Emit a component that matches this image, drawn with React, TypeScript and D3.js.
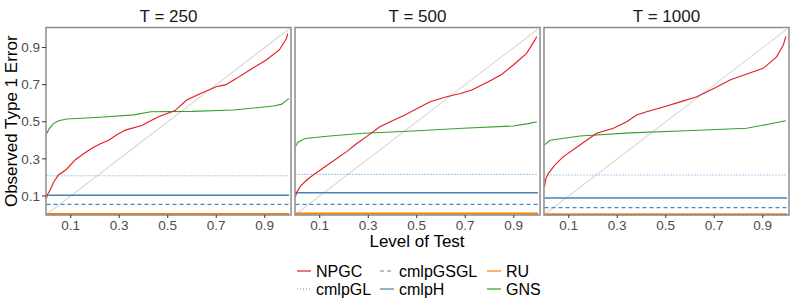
import React from "react";
import * as d3 from "d3";

// panels
const panelTitles = ["T = 250", "T = 500", "T = 1000"];

// NPGC (red) curves
const npgcLevels = [
  [0, 0.005, 0.014, 0.03, 0.049, 0.083, 0.118, 0.15, 0.187, 0.22, 0.256, 0.29, 0.325, 0.393, 0.43, 0.462, 0.53, 0.578, 0.64, 0.70, 0.74, 0.784, 0.838, 0.906, 0.96, 0.99, 0.995],
  [0, 0.005, 0.019, 0.046, 0.073, 0.142, 0.211, 0.25, 0.293, 0.348, 0.4, 0.451, 0.555, 0.623, 0.68, 0.727, 0.795, 0.85, 0.898, 0.953, 0.987, 0.995],
  [0, 0.005, 0.016, 0.045, 0.078, 0.146, 0.215, 0.284, 0.339, 0.38, 0.421, 0.49, 0.56, 0.628, 0.7, 0.765, 0.84, 0.902, 0.957, 0.985, 0.995],
];
const npgcValues = [
  [0.087, 0.11, 0.13, 0.175, 0.213, 0.244, 0.294, 0.325, 0.357, 0.38, 0.40, 0.43, 0.455, 0.48, 0.505, 0.527, 0.56, 0.617, 0.655, 0.689, 0.70, 0.734, 0.779, 0.833, 0.887, 0.95, 0.975],
  [0.096, 0.12, 0.15, 0.186, 0.213, 0.276, 0.339, 0.38, 0.42, 0.473, 0.505, 0.536, 0.608, 0.635, 0.652, 0.671, 0.716, 0.755, 0.806, 0.869, 0.94, 0.96],
  [0.15, 0.19, 0.222, 0.27, 0.312, 0.375, 0.438, 0.465, 0.5, 0.536, 0.554, 0.58, 0.607, 0.635, 0.68, 0.725, 0.76, 0.788, 0.85, 0.914, 0.96],
];

// GNS (green) curves
const gnsLevels = [
  [0, 0.01, 0.028, 0.05, 0.083, 0.22, 0.36, 0.43, 0.6, 0.77, 0.937, 0.97, 0.99, 1.0],
  [0, 0.01, 0.039, 0.142, 0.28, 0.486, 0.69, 0.898, 0.96, 0.995],
  [0, 0.023, 0.146, 0.352, 0.558, 0.833, 0.928, 0.995],
];
const gnsValues = [
  [0.434, 0.46, 0.49, 0.505, 0.515, 0.524, 0.537, 0.554, 0.556, 0.563, 0.585, 0.595, 0.615, 0.625],
  [0.366, 0.39, 0.41, 0.423, 0.438, 0.45, 0.465, 0.477, 0.49, 0.5],
  [0.375, 0.40, 0.423, 0.44, 0.45, 0.465, 0.488, 0.505],
];

// constant methods, one value per panel
const cmlpGL = [0.209, 0.216, 0.213];
const cmlpGSGL = [0.055, 0.055, 0.037];
const cmlpH = [0.104, 0.117, 0.089];
const RU = [0.003, 0.005, 0.002];

const xTicks = [0.1, 0.3, 0.5, 0.7, 0.9];
const yTicks = [0.1, 0.3, 0.5, 0.7, 0.9];

const colors = {
  NPGC: "#e41a1c",
  cmlpGL: "#5aa0dd",
  cmlpGSGL: "#3b8bd0",
  cmlpH: "#4682b4",
  RU: "#ff7f00",
  GNS: "#33a02c",
};

const legendItems = [
  { name: "NPGC", color: colors.NPGC, dash: null, col: 0, row: 0 },
  { name: "cmlpGL", color: colors.cmlpGL, dash: "1,2", col: 0, row: 1 },
  { name: "cmlpGSGL", color: colors.cmlpGSGL, dash: "4,3", col: 1, row: 0 },
  { name: "cmlpH", color: colors.cmlpH, dash: null, col: 1, row: 1 },
  { name: "RU", color: colors.RU, dash: null, col: 2, row: 0 },
  { name: "GNS", color: colors.GNS, dash: null, col: 2, row: 1 },
];

const font = "'Liberation Sans', Arial, sans-serif";

export default function App() {
  const width = 793;
  const height = 305;
  const panelLeft = [46, 295, 544];
  const panelW = 245;
  const top = 27.5;
  const bottom = 215;

  const y = d3.scaleLinear().domain([0, 1]).range([214.5, 29]);
  const legendX = [297, 380, 487];
  const legendY = [271, 289];

  return (
    <svg width={width} height={height} style={{ position: "absolute", left: 0, top: 0, fontFamily: font }}>
      <rect width={width} height={height} fill="#fff" />
      {panelTitles.map((title, p) => {
        const x0 = panelLeft[p];
        const x = d3.scaleLinear().domain([0, 1]).range([x0 + 0.5, x0 + 243]);
        const path = (lv: number[], vals: number[]) =>
          d3.line<number>().x(d => x(d)).y((d, i) => y(vals[i]))(lv) as string;
        const hline = (v: number) => `M${x(0)},${y(v)}H${x(1)}`;
        return (
          <g key={title}>
            <text x={x0 + panelW / 2} y={22} textAnchor="middle" fontSize={17} fill="#1a1a1a">{title}</text>
            <path d={`M${x(0)},${y(0)}L${x(1)},${y(1)}`} stroke="#d9d9d9" strokeWidth={1.1} fill="none" />
            <path d={hline(RU[p])} stroke={colors.RU} strokeWidth={2} fill="none" />
            <path d={hline(cmlpGL[p])} stroke={colors.cmlpGL} strokeWidth={1.2} strokeDasharray="1,2" fill="none" />
            <path d={hline(cmlpGSGL[p])} stroke={colors.cmlpGSGL} strokeWidth={1.2} strokeDasharray="4,3" fill="none" />
            <path d={hline(cmlpH[p])} stroke={colors.cmlpH} strokeWidth={1.5} fill="none" />
            <path d={path(gnsLevels[p], gnsValues[p])} stroke={colors.GNS} strokeWidth={1.1} fill="none" />
            <path d={path(npgcLevels[p], npgcValues[p])} stroke={colors.NPGC} strokeWidth={1.1} fill="none" />
            <rect x={x0} y={top} width={panelW} height={bottom - top} fill="none" stroke="#8c8c8c" strokeWidth={1.5} />
            {xTicks.map(t => (
              <g key={t}>
                <line x1={x(t)} x2={x(t)} y1={bottom} y2={bottom + 3} stroke="#333" strokeWidth={1} />
                <text x={x(t)} y={230} textAnchor="middle" fontSize={13.5} fill="#4d4d4d">{t}</text>
              </g>
            ))}
            {p === 0 && yTicks.map(t => (
              <g key={t}>
                <line x1={x0 - 4} x2={x0} y1={y(t)} y2={y(t)} stroke="#333" strokeWidth={1} />
                <text x={x0 - 6} y={y(t) + 4.7} textAnchor="end" fontSize={13.5} fill="#4d4d4d">{t}</text>
              </g>
            ))}
          </g>
        );
      })}
      <text transform={`translate(17,${(top + bottom) / 2}) rotate(-90)`} textAnchor="middle" fontSize={17} fill="#000">Observed Type 1 Error</text>
      <text x={417} y={247} textAnchor="middle" fontSize={17} fill="#000">Level of Test</text>
      {legendItems.map(item => {
        const lx = legendX[item.col];
        const ly = legendY[item.row];
        return (
          <g key={item.name}>
            <line x1={lx} x2={lx + 14} y1={ly} y2={ly} stroke={item.color} strokeWidth={1.2}
              strokeDasharray={item.dash ?? undefined} />
            <text x={lx + 19} y={ly + 6} fontSize={16} fill="#000">{item.name}</text>
          </g>
        );
      })}
    </svg>
  );
}
